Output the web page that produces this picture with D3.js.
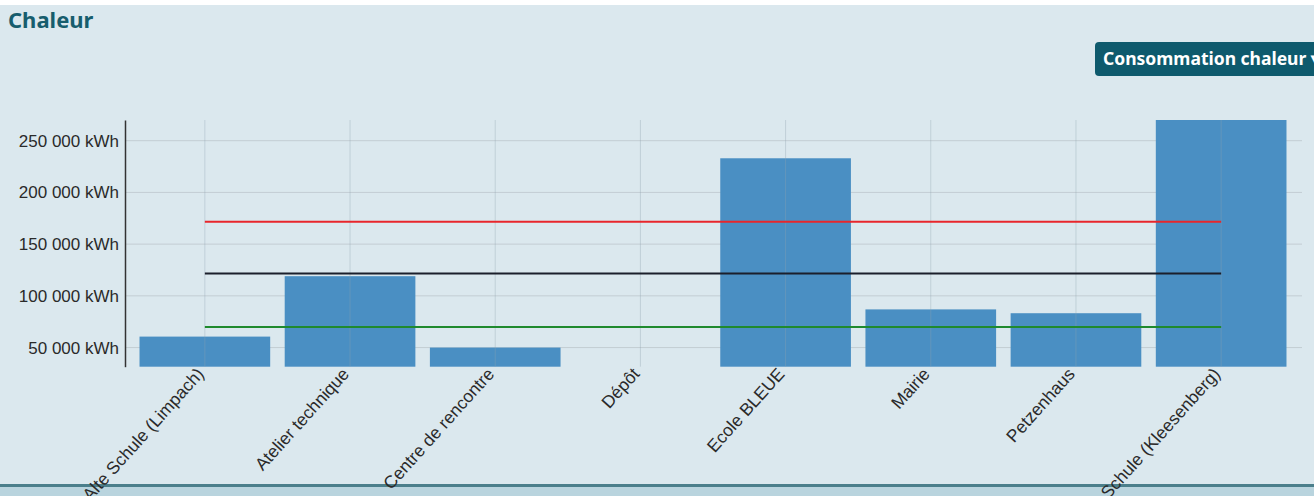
<!DOCTYPE html>
<html>
<head>
<meta charset="utf-8">
<script src="https://cdn.jsdelivr.net/npm/d3@7"></script>
<style>
  body { margin: 0; background: #fff; }
  svg { display: block; }
</style>
</head>
<body>
<div id="chart"></div>
<script>
// buildings and their heat consumption (kWh)
var buildings = ["Alte Schule (Limpach)", "Atelier technique", "Centre de rencontre", "Dépôt",
  "Ecole BLEUE", "Mairie", "Petzenhaus", "Alte Schule (Kleesenberg)"];
var consumption = [60600, 119000, 50000, 31500, 233000, 86900, 83200, 270000];

// reference lines
var refValues = [171600, 121700, 70000];
var refColors = ["#e8262b", "#1b1f2b", "#1f8a2e"];

var yTicks = [50000, 100000, 150000, 200000, 250000];

var W = 1314, H = 496;
var margin = { left: 125, top: 120 };
var baseY = 366.7;

var svg = d3.select("#chart").append("svg").attr("width", W).attr("height", H);

svg.append("rect").attr("width", W).attr("height", H).attr("fill", "#dbe8ee");
svg.append("rect").attr("width", W).attr("height", 5).attr("fill", "#fff");
// bottom band
svg.append("rect").attr("y", 487).attr("width", W).attr("height", 9).attr("fill", "#b9d4de");
svg.append("rect").attr("y", 484).attr("width", W).attr("height", 3).attr("fill", "#4b7f8b");

svg.append("text").attr("x", 8).attr("y", 28)
  .attr("font-family", "Noto Sans, sans-serif").attr("font-weight", "bold").attr("font-size", 22)
  .attr("fill", "#175d6d").text("Chaleur");

// dropdown button
svg.append("rect").attr("x", 1095).attr("y", 42).attr("width", 240).attr("height", 34).attr("rx", 4)
  .attr("fill", "#0e5a6d");
svg.append("text").attr("x", 1103).attr("y", 65)
  .attr("font-family", "Noto Sans, sans-serif").attr("font-weight", "bold").attr("font-size", 17.5)
  .attr("fill", "#fff").text("Consommation chaleur ▾");

var xs = d3.scaleBand().domain(buildings).range([margin.left, 1301]).padding(0.1);
var ys = d3.scaleLinear().domain(d3.extent(consumption)).range([baseY, margin.top]);

var data = buildings.map(function (b, i) { return { name: b, value: consumption[i] }; });

// grid
svg.append("g").selectAll("line").data(yTicks).enter().append("line")
  .attr("x1", margin.left).attr("x2", 1302)
  .attr("y1", d => ys(d)).attr("y2", d => ys(d))
  .attr("stroke", "#c3cdd3").attr("stroke-width", 1);

// bars
svg.append("g").selectAll("rect").data(data).enter().append("rect")
  .attr("x", d => xs(d.name))
  .attr("width", xs.bandwidth())
  .attr("y", d => ys(d.value))
  .attr("height", d => baseY - ys(d.value))
  .attr("fill", "#4a8fc3");

svg.append("g").selectAll("line").data(buildings).enter().append("line")
  .attr("x1", d => xs(d) + xs.bandwidth() / 2).attr("x2", d => xs(d) + xs.bandwidth() / 2)
  .attr("y1", margin.top).attr("y2", baseY)
  .attr("stroke", "#8fa3b0").attr("stroke-opacity", 0.35).attr("stroke-width", 1);

// reference lines
var xStart = xs(buildings[0]) + xs.bandwidth() / 2;
var xEnd = xs(buildings[buildings.length - 1]) + xs.bandwidth() / 2;
svg.append("g").selectAll("line").data(refValues).enter().append("line")
  .attr("x1", xStart).attr("x2", xEnd)
  .attr("y1", d => ys(d)).attr("y2", d => ys(d))
  .attr("stroke", (d, i) => refColors[i]).attr("stroke-width", 2);

// y axis
var fmt = d3.formatLocale({ decimal: ",", thousands: " ", grouping: [3], currency: ["", ""] }).format(",d");
var yAxis = svg.append("g").attr("transform", "translate(" + margin.left + ",0)")
  .call(d3.axisLeft(ys).tickValues(yTicks).tickSize(0).tickPadding(6).tickFormat(d => fmt(d) + " kWh"));
yAxis.select(".domain").attr("stroke", "#333").attr("stroke-width", 1.5);
yAxis.selectAll("text").attr("font-family", "Liberation Sans, Arial, sans-serif")
  .attr("font-size", 17).attr("fill", "#2a2a2a");

// x labels
var xAxis = svg.append("g").attr("transform", "translate(0," + baseY + ")")
  .call(d3.axisBottom(xs).tickSize(0).tickPadding(0));
xAxis.select(".domain").remove();
xAxis.selectAll("text")
  .attr("font-family", "Liberation Sans, Arial, sans-serif").attr("font-size", 17.5).attr("fill", "#2a2a2a")
  .attr("text-anchor", "end").attr("dy", 0)
  .attr("transform", "translate(0,8) rotate(-48)");
</script>
</body>
</html>
